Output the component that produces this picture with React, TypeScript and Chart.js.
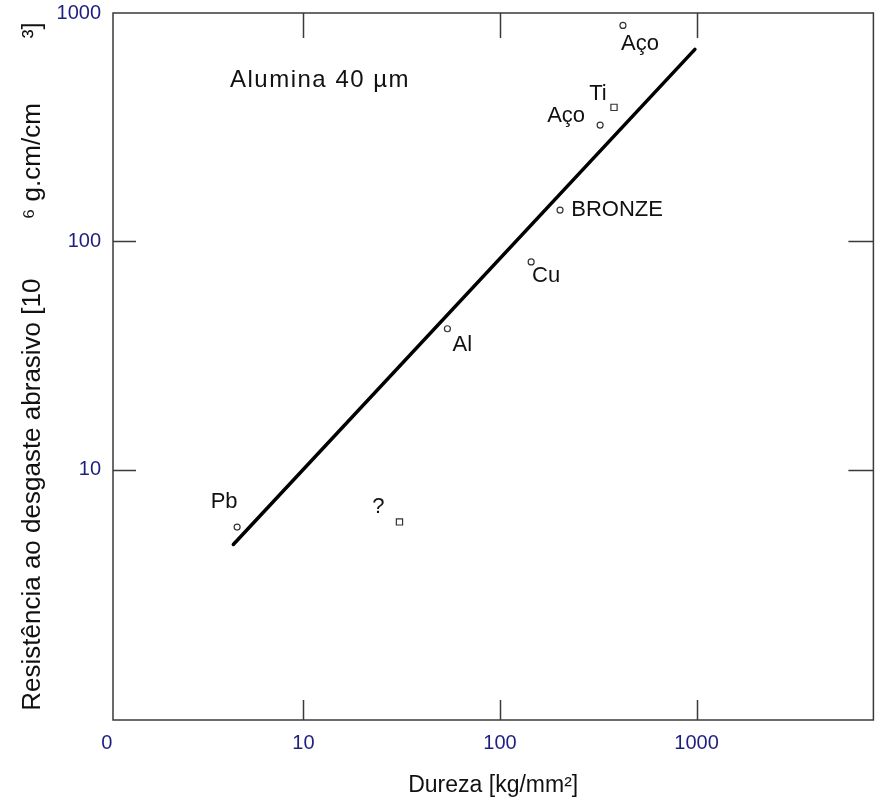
import React, { useEffect, useRef } from 'react';
import { Chart, registerables } from 'chart.js';

Chart.register(...registerables);

// ---- data ----
const materials = ['Pb', '?', 'Al', 'Cu', 'BRONZE', 'Aço', 'Ti', 'Aço'];
const hardness = [4.6, 30.8, 54, 144, 202, 323, 380, 422];
const wearResistance = [5.6, 5.9, 41.4, 81.2, 137, 323, 386, 882];
const fitHardness = [4.4, 980];
const fitResistance = [4.7, 693];
const xTickValues = [1, 10, 100, 1000];
const xTickLabels = ['0', '10', '100', '1000'];
const yTickValues = [10, 100, 1000];
const yTickLabels = ['10', '100', '1000'];
const annotationText = 'Alumina 40 µm';
const xTitle = 'Dureza [kg/mm²]';
const yTitle = 'Resistência ao desgaste abrasivo [10\u2003\u2003 ⁶ g.cm/cm\u2003\u2003\u2002³]';

// ---- styles ----
const FONT = '"Liberation Sans", Arial, Helvetica, sans-serif';
const TICK_COLOR = '#1f1f80';
const TEXT_COLOR = '#111111';
const FRAME_COLOR = '#3a3a3a';
const POINT_SHAPES = ['circle', 'rect', 'circle', 'circle', 'circle', 'circle', 'rect', 'circle'];
const LABEL_OFFSETS: number[][] = [
  [-13, -25],
  [-21, -15],
  [15, 16],
  [15, 14],
  [57, 0],
  [-34, -9],
  [-16, -13],
  [17, 18],
];

const overlayPlugin = {
  id: 'overlay',
  beforeDatasetsDraw(chart: any) {
    const { ctx, chartArea } = chart;
    const { left, right, top, bottom } = chartArea;
    const xs = chart.scales.x;
    const ys = chart.scales.y;
    ctx.save();
    ctx.strokeStyle = FRAME_COLOR;
    ctx.lineWidth = 1.5;
    ctx.strokeRect(left, top, right - left, bottom - top);
    ctx.beginPath();
    [10, 100, 1000].forEach((v) => {
      const px = Math.round(xs.getPixelForValue(v)) + 0.5;
      ctx.moveTo(px, bottom);
      ctx.lineTo(px, bottom - 20);
      ctx.moveTo(px, top);
      ctx.lineTo(px, top + 25);
    });
    [10, 100].forEach((v) => {
      const py = Math.round(ys.getPixelForValue(v)) + 0.5;
      ctx.moveTo(left, py);
      ctx.lineTo(left + 23, py);
      ctx.moveTo(right, py);
      ctx.lineTo(right - 25, py);
    });
    ctx.stroke();
    ctx.restore();
  },
  afterDatasetsDraw(chart: any) {
    const { ctx, chartArea } = chart;
    const meta = chart.getDatasetMeta(1);
    ctx.save();
    ctx.fillStyle = TEXT_COLOR;
    ctx.font = `22px ${FONT}`;
    ctx.textAlign = 'center';
    ctx.textBaseline = 'middle';
    meta.data.forEach((pt: any, i: number) => {
      const off = LABEL_OFFSETS[i] || [10, -10];
      ctx.fillText(materials[i], pt.x + off[0], pt.y + off[1]);
    });
    ctx.font = `24px ${FONT}`;
    ctx.textAlign = 'left';
    try {
      (ctx as any).letterSpacing = '1.5px';
    } catch (e) {}
    ctx.fillText(annotationText, chartArea.left + 117, chartArea.top + 67);
    ctx.restore();
  },
};

export default function App() {
  const canvasRef = useRef<HTMLCanvasElement>(null);

  useEffect(() => {
    const canvas = canvasRef.current;
    if (!canvas) return;
    const chart = new Chart(canvas, {
      type: 'scatter',
      data: {
        datasets: [
          {
            label: 'ajuste',
            data: fitHardness.map((x, i) => ({ x, y: fitResistance[i] })),
            showLine: true,
            borderColor: '#000000',
            borderWidth: 3.5,
            pointRadius: 0,
            borderCapStyle: 'round',
          } as any,
          {
            label: 'materiais',
            data: hardness.map((x, i) => ({ x, y: wearResistance[i] })),
            showLine: false,
            pointStyle: (c: any) => POINT_SHAPES[c.dataIndex] as any,
            pointRadius: (c: any) => (POINT_SHAPES[c.dataIndex] === 'rect' ? 4.4 : 3),
            pointBackgroundColor: '#ffffff',
            pointBorderColor: '#333333',
            pointBorderWidth: 1.2,
          } as any,
        ],
      },
      options: {
        responsive: false,
        animation: false,
        layout: { padding: { top: 13, right: 4, left: 0, bottom: 0 } },
        plugins: {
          legend: { display: false },
          tooltip: { enabled: false },
        },
        scales: {
          x: {
            type: 'logarithmic',
            position: 'bottom',
            min: 1.075,
            max: 7930,
            afterBuildTicks: (s: any) => {
              s.ticks = xTickValues.map((v) => ({ value: v }));
            },
            afterFit: (s: any) => {
              s.height = 84;
              s.paddingLeft = 0;
              s.paddingRight = 0;
            },
            grid: { display: false, drawTicks: false },
            border: { display: false },
            ticks: {
              autoSkip: false,
              maxRotation: 0,
              padding: 11,
              color: TICK_COLOR,
              font: { family: FONT, size: 20 },
              callback: (v: any) => {
                const i = xTickValues.indexOf(Number(v));
                return i >= 0 ? xTickLabels[i] : '';
              },
            },
            title: {
              display: true,
              text: xTitle,
              color: TEXT_COLOR,
              font: { family: FONT, size: 23 },
              padding: { top: 0, bottom: 5 },
            },
          } as any,
          y: {
            type: 'logarithmic',
            position: 'left',
            min: 0.8,
            max: 1000,
            afterBuildTicks: (s: any) => {
              s.ticks = yTickValues.map((v) => ({ value: v }));
            },
            afterFit: (s: any) => {
              s.width = 113;
              s.paddingTop = 0;
              s.paddingBottom = 0;
            },
            grid: { display: false, drawTicks: false },
            border: { display: false },
            ticks: {
              autoSkip: false,
              padding: 12,
              color: TICK_COLOR,
              font: { family: FONT, size: 20 },
              callback: (v: any) => {
                const i = yTickValues.indexOf(Number(v));
                return i >= 0 ? yTickLabels[i] : '';
              },
            },
            title: {
              display: true,
              text: yTitle,
              color: TEXT_COLOR,
              font: { family: FONT, size: 26 },
              padding: { top: 17, bottom: 0 },
            },
          } as any,
        },
      },
      plugins: [overlayPlugin],
    });
    return () => chart.destroy();
  }, []);

  return (
    <div style={{ position: 'absolute', left: 0, top: 0, width: 879, height: 804, background: '#ffffff' }}>
      <canvas ref={canvasRef} width={879} height={804} style={{ display: 'block' }} />
    </div>
  );
}
